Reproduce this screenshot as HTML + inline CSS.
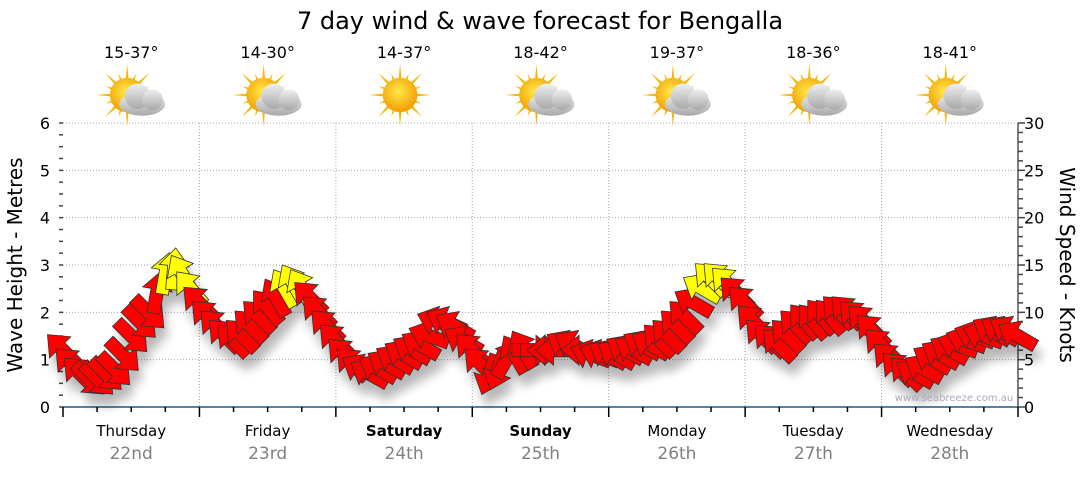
<!DOCTYPE html>
<html><head><meta charset="utf-8"><style>
html,body{margin:0;padding:0;background:#fff;}
svg text{font-family:"DejaVu Sans","Liberation Sans",sans-serif;}
</style></head><body>
<svg id="chart" width="1080" height="475" viewBox="0 0 1080 475" xmlns="http://www.w3.org/2000/svg">
<defs>
<filter id="sh" x="-50%" y="-50%" width="200%" height="200%"><feGaussianBlur stdDeviation="5"/></filter>
<radialGradient id="sunG" cx="0.45" cy="0.4" r="0.6"><stop offset="0" stop-color="#ffe94a"/><stop offset="1" stop-color="#f39c00"/></radialGradient>
<linearGradient id="cloudG" x1="0" y1="0" x2="0" y2="1"><stop offset="0" stop-color="#f0f0f0"/><stop offset="1" stop-color="#a8a8a8"/></linearGradient>
</defs>
<text x="540" y="29" font-size="24" text-anchor="middle" fill="#000">7 day wind &amp; wave forecast for Bengalla</text>
<g id="grid"></g>
<g id="axes"></g>
<g id="icons"></g>
<g id="shadows" filter="url(#sh)" opacity="0.28"></g>
<g id="arrows"></g>
<text x="954" y="401" font-size="10" fill="#aab" text-anchor="middle">www.seabreeze.com.au</text>
<text transform="translate(22,265) rotate(-90)" font-size="20" text-anchor="middle">Wave Height - Metres</text>
<text transform="translate(1060,265) rotate(90)" font-size="20" text-anchor="middle">Wind Speed - Knots</text>
</svg>
<script>
const days = ["Thursday","Friday","Saturday","Sunday","Monday","Tuesday","Wednesday"];
const dates = ["22nd","23rd","24th","25th","26th","27th","28th"];
const boldDays = [false,false,true,true,false,false,false];
const temps = ["15-37°","14-30°","14-37°","18-42°","19-37°","18-36°","18-41°"];
const cloudy = [true,true,false,true,true,true,true];
const leftTicks = [0,1,2,3,4,5,6];
const rightTicks = [0,5,10,15,20,25,30];
const windKnots = [6,4.5,3.5,3,3,3.5,4,5.5,7.5,9,
10,12,14,14.5,14,12.5,11,9.5,8.5,7.5,
7,7.5,8.5,9.5,10.5,11.5,12.5,13,12.5,11.5,
10,8.5,7,5.5,4.5,4,3.5,4,4.5,5,
5.5,6,6.5,7.5,9,9,8.5,7,6,4.5,
3.5,4,5,5.5,6,6,6,6,6,6.5,
6.5,6,5.5,5.5,5.5,5.5,6,6,6.5,6.5,
7,7.5,8.5,9.5,11,12.5,13.5,13.5,13,12,
11,9,7.5,7,6.5,7.5,8.5,9,9,9.5,
9.5,10,10,9.5,9,8,6.5,5,4,3.5,
3.5,4,5,5.5,6,6.5,7,7.5,7.5,8,
8,8,7.5];
const windDir = [315,315,315,135,135,135,135,135,135,135,135,10,10,5,330,320,
315,315,315,315,315,315,315,315,320,330,330,330,330,315,315,315,
315,315,315,300,300,300,300,300,300,300,300,290,290,295,300,300,
315,315,200,200,30,330,330,90,90,270,270,300,300,270,290,290,
300,300,300,300,300,300,315,315,315,315,300,300,315,315,315,315,
315,315,315,315,315,315,315,320,320,320,320,315,315,315,315,315,
315,315,315,315,300,300,300,300,300,290,290,290,290,300,300,300,300];

const X0=63,X1=1018,Y0=407,Y1=123;
const dayW=(X1-X0)/7;
const yM=m=>Y0-(m/6)*(Y0-Y1);
const yK=k=>Y0-(k/30)*(Y0-Y1);
const xT=i=>X0+i*(X1-X0)/(windKnots.length-1);
const NS="http://www.w3.org/2000/svg";
function mk(tag,attrs,parent){const e=document.createElementNS(NS,tag);for(const k in attrs)e.setAttribute(k,attrs[k]);parent.appendChild(e);return e;}
const grid=document.getElementById('grid'),axes=document.getElementById('axes'),icons=document.getElementById('icons');
leftTicks.forEach(m=>{if(m>0){const l=mk('line',{x1:X0,x2:X1,y1:yM(m),y2:yM(m),stroke:'#aaa','stroke-dasharray':'1,2'},grid);

}});
for(let d=1;d<7;d++){const l=mk('line',{x1:X0+d*dayW,x2:X0+d*dayW,y1:Y1,y2:Y0,stroke:'#aaa','stroke-dasharray':'1,2'},grid);

}
leftTicks.forEach(m=>{const t=mk('text',{x:50,y:yM(m)+6,'font-size':16,'text-anchor':'end'},axes);t.textContent=m;

});
for(let i=0;i<=24;i++){mk('line',{x1:X0-4,x2:X0,y1:yM(i/4),y2:yM(i/4),stroke:'#444','stroke-width':1.5},axes);}
mk('line',{x1:X1,x2:X1,y1:Y1,y2:Y0+2,stroke:'#000'},axes);
rightTicks.forEach(k=>{const t=mk('text',{x:1024,y:yK(k)+6,'font-size':16},axes);t.textContent=k;

});
for(let i=0;i<=30;i++){mk('line',{x1:X1,x2:X1+(i%5==0?7:5),y1:yK(i),y2:yK(i),stroke:'#444','stroke-width':1.5},axes);}
const xa=mk('line',{x1:X0,x2:X1,y1:Y0,y2:Y0,stroke:'#1f5a85','stroke-width':1.5},axes);


for(let i=0;i<=28;i++){const x=X0+i*dayW/4;mk('line',{x1:x,x2:x,y1:Y0,y2:Y0+(i%4==0?10:5),stroke:'#000','stroke-width':1.5},axes);}
days.forEach((d,i)=>{const cx=X0+(i+0.5)*dayW;
const t=mk('text',{x:cx,y:436,'font-size':15,'text-anchor':'middle','font-weight':boldDays[i]?'bold':'normal'},axes);t.textContent=d;


const t2=mk('text',{x:cx,y:459,'font-size':17,'text-anchor':'middle',fill:'#808080'},axes);t2.textContent=dates[i];


const t3=mk('text',{x:cx,y:58,'font-size':16,'text-anchor':'middle'},icons);t3.textContent=temps[i];


const g=mk('g',{transform:`translate(${cx-4},95) scale(1.15)`},icons);


for(let r=0;r<16;r++){const a=r*Math.PI/8,L=r%2?20:27;mk('polygon',{points:`${Math.cos(a-0.12)*12},${Math.sin(a-0.12)*12} ${Math.cos(a)*L},${Math.sin(a)*L} ${Math.cos(a+0.12)*12},${Math.sin(a+0.12)*12}`,fill:'#f5b800'},g);}
mk('circle',{cx:0,cy:0,r:15,fill:'url(#sunG)'},g);
if(cloudy[i]){const c=mk('g',{transform:'translate(13,4)'},g);
mk('ellipse',{cx:0,cy:4,rx:20,ry:10,fill:'url(#cloudG)'},c);
mk('circle',{cx:-4,cy:-3,r:11,fill:'url(#cloudG)'},c);
mk('circle',{cx:9,cy:0,r:9,fill:'url(#cloudG)'},c);}
});
const sh=document.getElementById('shadows'),ar=document.getElementById('arrows');
const pts="0,-22 15,-4 6.5,-4 6.5,20 -6.5,20 -6.5,-4 -15,-4";
windKnots.forEach((k,i)=>{const x=xT(i),y=yK(k);
mk('polygon',{points:pts,fill:'#000',transform:`translate(${x+4},${y+12}) rotate(${windDir[i]})`},sh);
const p=mk('polygon',{points:pts,fill:k>12?'#ffff00':'#ff0000',stroke:'#333','stroke-width':0.8,transform:`translate(${x},${y}) rotate(${windDir[i]})`},ar);


});
</script>
</body></html>
